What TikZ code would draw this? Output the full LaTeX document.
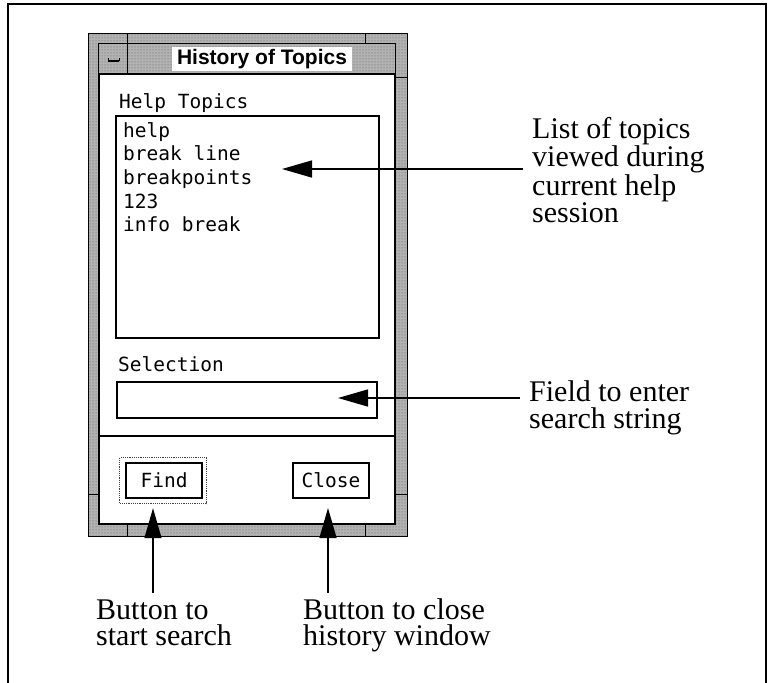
\documentclass[tikz,border=0pt]{standalone}
\usepackage{fontspec}
\usetikzlibrary{arrows.meta,patterns}
\newfontfamily\capfont{Liberation Serif}
\newfontfamily\uimono{DejaVu Sans Mono}
\newfontfamily\uititle{Liberation Sans}

\begin{document}
\begin{tikzpicture}[x=1pt,y=-1pt,
  stipple/.style={fill=black!30, postaction={pattern=dots, pattern color=black!65}},
  monotext/.style={anchor=base west, inner sep=0pt, font=\uimono\fontsize{19.5}{23}\selectfont},
  caption/.style={anchor=base west, inner sep=0pt, align=left, font=\capfont\fontsize{30}{27}\selectfont},
  boxed/.style={draw=black, inner sep=0pt, anchor=north west},
  pointer/.style={line width=1.4pt, -{Triangle[length=30pt,width=17pt]}},
  tick/.style={line width=1pt}]

\useasboundingbox (0,0) rectangle (772,683);

% page frame, open at the foot of the page
\draw[line width=1.5pt] (8,700) -- (8,4) -- (766,4) -- (766,700);

% window decoration: stippled border and title bar
\path[stipple, draw=black, line width=0.8pt] (88,33) rectangle (407,536);
\draw[line width=1pt] (98,74) -- (98,43) -- (395,43) -- (395,74);
\draw[line width=1pt] (127,43) -- (127,73);
\draw[tick] (127,33) -- (127,43) (365,33) -- (365,43);
\draw[tick] (127,523) -- (127,536) (365,523) -- (365,536);
\draw[tick] (88,494) -- (98,494) (394,494) -- (407,494);
\draw[tick] (394,77) -- (407,77);

% window menu button
\draw[line width=2.2pt] (108,61) -- (119,61);
\draw[line width=0.8pt] (108,58) -- (108,61) (119,58) -- (119,61);

% title
\node[fill=white, inner sep=0pt, minimum width=180pt, minimum height=24pt,
      font=\uititle\bfseries\fontsize{21}{24}\selectfont] (title) at (262,59) {History of Topics};

% client area
\node[boxed, fill=white, line width=1.8pt, minimum width=296pt, minimum height=450pt] (client) at (98,73) {};
\draw[line width=1.6pt] (client.west |- 0,436) -- (client.east |- 0,436);

% help topics list
\node[monotext] (lbltopics) at (119,108) {Help Topics};
\node[boxed, line width=2.4pt, minimum width=263pt, minimum height=222pt] (topics) at (115,115) {};
\node[monotext] (t1) at (123,137) {help};
\node[monotext] (t2) at (123,160.7) {break line};
\node[monotext] (t3) at (123,184.4) {breakpoints};
\node[monotext] (t4) at (123,208.1) {123};
\node[monotext] (t5) at (123,231.8) {info break};

% selection field
\node[monotext] (lblsel) at (118,371) {Selection};
\node[boxed, line width=2.4pt, minimum width=260pt, minimum height=36pt] (field) at (116,381) {};

% buttons
\node[boxed, draw=black!75, densely dotted, line width=1.2pt, minimum width=87pt, minimum height=46pt] (findrim) at (119,457) {};
\node[boxed, line width=2.4pt, minimum width=76pt, minimum height=35pt,
      font=\uimono\fontsize{19.5}{23}\selectfont] (find) at (125,462) {Find};
\node[boxed, line width=2pt, minimum width=76pt, minimum height=35pt,
      font=\uimono\fontsize{19.5}{23}\selectfont] (close) at (292,462) {Close};

% explanatory captions (anchored on the baseline of their last line)
\node[caption] (c1) at (532,222) {List of topics\\viewed during\\current help\\session};
\node[caption] (c2) at (529,428) {Field to enter\\search string};
\node[caption, font=\capfont\fontsize{30}{26.5}\selectfont] (c3) at (96,645.5) {Button to\\start search};
\node[caption, font=\capfont\fontsize{30}{26.5}\selectfont] (c4) at (303,645.5) {Button to close\\history window};

% pointers
\coordinate (tailA) at (523,169);
\coordinate (tipA) at (282,169);
\coordinate (tailB) at (520,398);
\coordinate (tipB) at (338,398);
\coordinate (tailC) at (153,593);
\coordinate (tailD) at (328,593);
\draw[pointer] (tailA) -- (tipA);
\draw[pointer] (tailB) -- (tipB);
\draw[pointer, shorten >=4pt] (tailC) -- (tailC |- findrim.south);
\draw[pointer, shorten >=9pt] (tailD) -- (tailD |- close.south);
\end{tikzpicture}
\end{document}
